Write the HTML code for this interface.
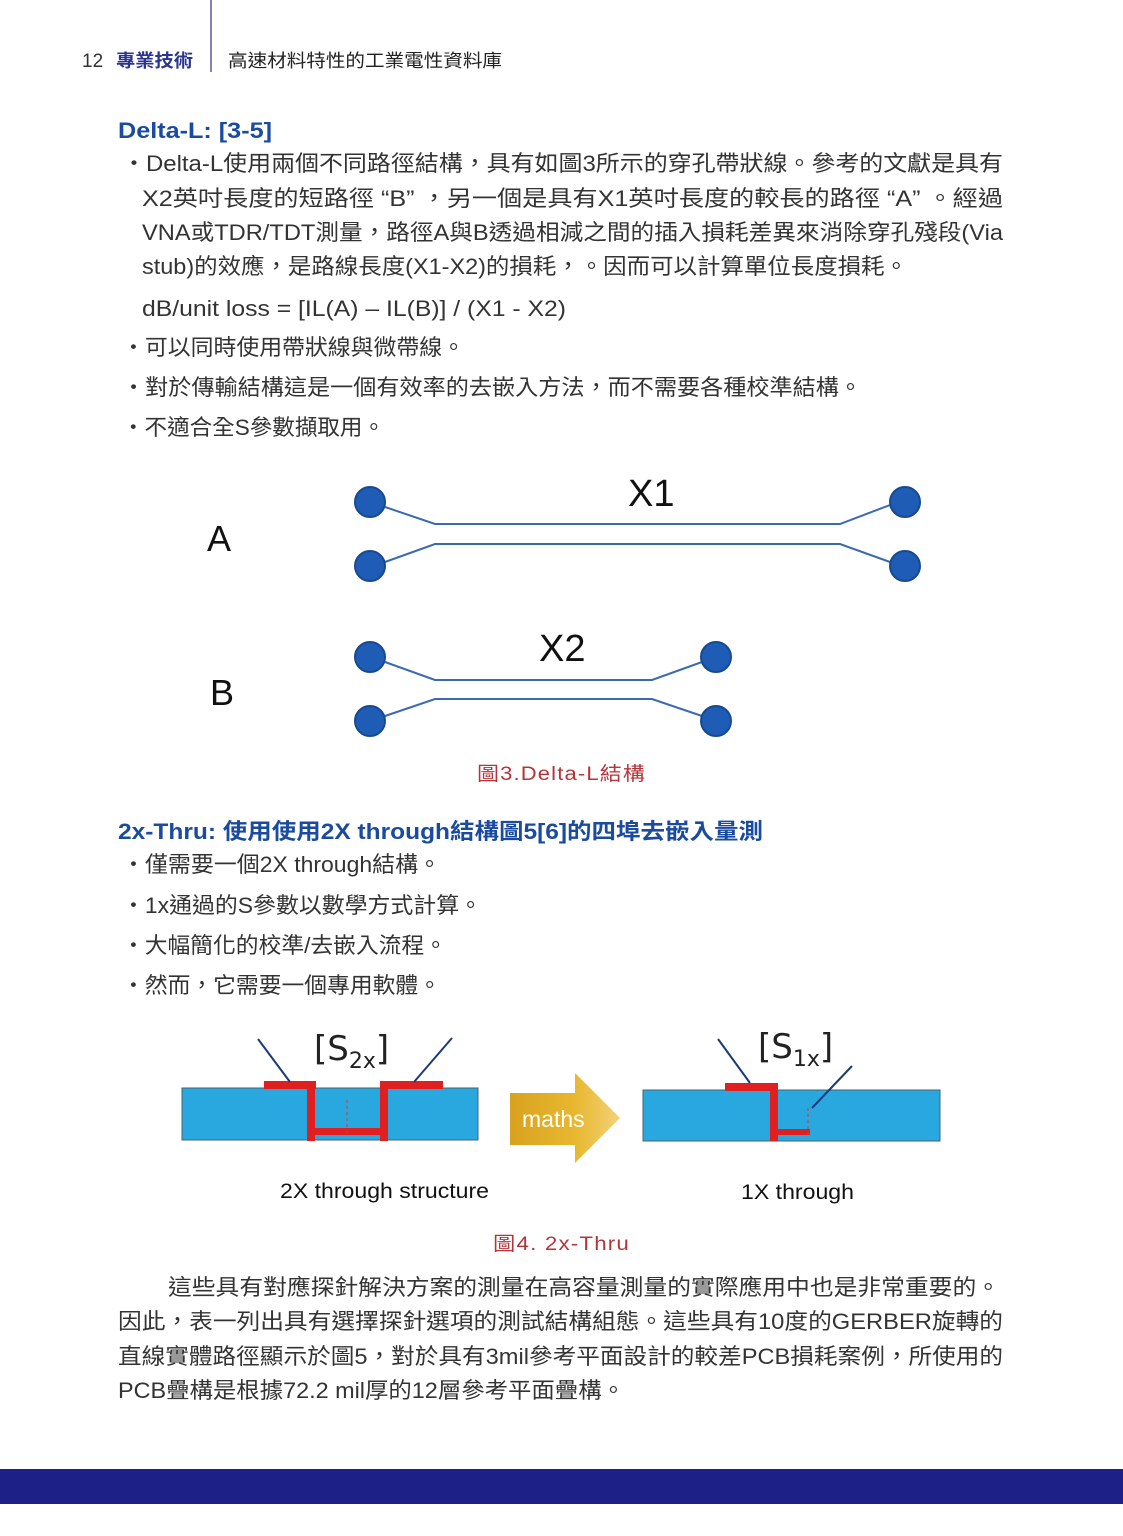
<!DOCTYPE html>
<html><head><meta charset="utf-8"><style>
html,body{margin:0;padding:0;background:#fff}
svg{display:block}
text{font-family:"Liberation Sans","Noto Sans CJK TC",sans-serif}
.b{font-size:22px;fill:#333}
.h{font-size:22px;fill:#1a4ba0;font-weight:bold}
.c{font-size:19px;fill:#b5343a;letter-spacing:1px}
</style></head><body>
<svg width="1123" height="1536" viewBox="0 0 1123 1536" xmlns="http://www.w3.org/2000/svg">
<defs>
<linearGradient id="g" x1="0" y1="0" x2="1" y2="0">
<stop offset="0" stop-color="#d9a21e"/><stop offset="0.6" stop-color="#e8b830"/><stop offset="1" stop-color="#f3d27a"/></linearGradient>
</defs>
<!-- header -->
<line x1="211" y1="0" x2="211" y2="72" stroke="#555a9a" stroke-width="1.5"/>
<text x="82" y="67" style="font-size:19px;fill:#333">12</text>
<text x="116" y="67" textLength="77" lengthAdjust="spacingAndGlyphs" style="font-size:18px;fill:#2a3590;font-weight:bold">專業技術</text>
<text x="228" y="67" textLength="274" lengthAdjust="spacingAndGlyphs" style="font-size:18px;fill:#222">高速材料特性的工業電性資料庫</text>

<text x="118" y="138" class="h" textLength="154" lengthAdjust="spacingAndGlyphs">Delta-L: [3-5]</text>
<text x="122" y="171" class="b" textLength="881" lengthAdjust="spacingAndGlyphs">・Delta-L使用兩個不同路徑結構，具有如圖3所示的穿孔帶狀線。參考的文獻是具有</text>
<text x="142" y="206" class="b" textLength="861" lengthAdjust="spacingAndGlyphs">X2英吋長度的短路徑 “B” ，另一個是具有X1英吋長度的較長的路徑 “A” 。經過</text>
<text x="142" y="240" class="b" textLength="861" lengthAdjust="spacingAndGlyphs">VNA或TDR/TDT測量，路徑A與B透過相減之間的插入損耗差異來消除穿孔殘段(Via</text>
<text x="142" y="274" class="b" textLength="766" lengthAdjust="spacingAndGlyphs">stub)的效應，是路線長度(X1-X2)的損耗，。因而可以計算單位長度損耗。</text>
<text x="142" y="316" class="b" textLength="424" lengthAdjust="spacingAndGlyphs">dB/unit  loss = [IL(A) – IL(B)] / (X1 - X2)</text>
<text x="122" y="355" class="b" textLength="343" lengthAdjust="spacingAndGlyphs">・可以同時使用帶狀線與微帶線。</text>
<text x="122" y="395" class="b" textLength="740" lengthAdjust="spacingAndGlyphs">・對於傳輸結構這是一個有效率的去嵌入方法，而不需要各種校準結構。</text>
<text x="122" y="435" class="b" textLength="263" lengthAdjust="spacingAndGlyphs">・不適合全S參數擷取用。</text>

<!-- Figure 3 -->
<g stroke="#3a6ab0" stroke-width="2" fill="none">
<polyline points="385,507 435,524 840,524 890,505"/>
<polyline points="385,562 435,544 840,544 890,562"/>
<polyline points="385,662 435,680 652,680 702,662"/>
<polyline points="385,716 435,699 652,699 702,716"/>
</g>
<g fill="#1f5cb5" stroke="#184a90" stroke-width="2">
<circle cx="370" cy="502" r="15"/><circle cx="370" cy="566" r="15"/>
<circle cx="905" cy="502" r="15"/><circle cx="905" cy="566" r="15"/>
<circle cx="370" cy="657" r="15"/><circle cx="370" cy="721" r="15"/>
<circle cx="716" cy="657" r="15"/><circle cx="716" cy="721" r="15"/>
</g>
<text x="628" y="506" style="font-size:38px;fill:#111">X1</text>
<text x="207" y="551" style="font-size:36px;fill:#111">A</text>
<text x="539" y="661" style="font-size:38px;fill:#111">X2</text>
<text x="210" y="705" style="font-size:36px;fill:#111">B</text>
<text x="477" y="780" class="c" textLength="169" lengthAdjust="spacingAndGlyphs">圖3.Delta-L結構</text>

<text x="118" y="839" class="h" textLength="645" lengthAdjust="spacingAndGlyphs">2x-Thru: 使用使用2X through結構圖5[6]的四埠去嵌入量測</text>
<text x="122" y="872" class="b" textLength="319" lengthAdjust="spacingAndGlyphs">・僅需要一個2X through結構。</text>
<text x="122" y="913" class="b" textLength="360" lengthAdjust="spacingAndGlyphs">・1x通過的S參數以數學方式計算。</text>
<text x="122" y="953" class="b" textLength="325" lengthAdjust="spacingAndGlyphs">・大幅簡化的校準/去嵌入流程。</text>
<text x="122" y="993" class="b" textLength="319" lengthAdjust="spacingAndGlyphs">・然而，它需要一個專用軟體。</text>

<!-- Figure 4 left -->
<rect x="182" y="1088" width="296" height="52" fill="#29a8e0" stroke="#4a6070" stroke-width="1"/>
<rect x="264" y="1081" width="52" height="8" fill="#e02020"/>
<rect x="380" y="1081" width="63" height="8" fill="#e02020"/>
<rect x="307" y="1088" width="8" height="53" fill="#e02020"/>
<rect x="380" y="1088" width="8" height="53" fill="#e02020"/>
<rect x="310" y="1128" width="75" height="7" fill="#e02020"/>
<line x1="347" y1="1100" x2="347" y2="1135" stroke="#c04040" stroke-width="1" stroke-dasharray="3,3"/>
<g stroke="#1a3a7a" stroke-width="2"><line x1="258" y1="1039" x2="290" y2="1082"/><line x1="452" y1="1038" x2="414" y2="1082"/></g>
<text x="314" y="1060" style="font-size:34px;fill:#222;font-family:'DejaVu Sans',sans-serif">[S<tspan dy="8" style="font-size:22px">2x</tspan><tspan dy="-8">]</tspan></text>
<!-- arrow -->
<polygon points="510,1093 575,1093 575,1073 620,1118 575,1163 575,1145 510,1145" fill="url(#g)"/>
<text x="522" y="1127" style="font-size:23px;fill:#fff">maths</text>
<!-- right -->
<rect x="643" y="1090" width="297" height="51" fill="#29a8e0" stroke="#4a6070" stroke-width="1"/>
<rect x="725" y="1083" width="53" height="8" fill="#e02020"/>
<rect x="770" y="1083" width="8" height="58" fill="#e02020"/>
<rect x="774" y="1129" width="36" height="6" fill="#e02020"/>
<line x1="808" y1="1108" x2="808" y2="1135" stroke="#c04040" stroke-width="1" stroke-dasharray="3,3"/>
<g stroke="#1a3a7a" stroke-width="2"><line x1="718" y1="1039" x2="750" y2="1083"/><line x1="852" y1="1066" x2="812" y2="1108"/></g>
<text x="758" y="1058" style="font-size:34px;fill:#222;font-family:'DejaVu Sans',sans-serif">[S<tspan dy="8" style="font-size:22px">1x</tspan><tspan dy="-8">]</tspan></text>
<text x="280" y="1198" style="font-size:21px;fill:#111" textLength="209" lengthAdjust="spacingAndGlyphs">2X through structure</text>
<text x="741" y="1199" style="font-size:21px;fill:#111" textLength="113" lengthAdjust="spacingAndGlyphs">1X through</text>
<text x="493" y="1250" class="c" textLength="137" lengthAdjust="spacingAndGlyphs">圖4. 2x-Thru</text>

<text x="168" y="1295" class="b" textLength="832" lengthAdjust="spacingAndGlyphs">這些具有對應探針解決方案的測量在高容量測量的實際應用中也是非常重要的。</text>
<text x="118" y="1329" class="b" textLength="885" lengthAdjust="spacingAndGlyphs">因此，表一列出具有選擇探針選項的測試結構組態。這些具有10度的GERBER旋轉的</text>
<text x="118" y="1364" class="b" textLength="885" lengthAdjust="spacingAndGlyphs">直線實體路徑顯示於圖5，對於具有3mil參考平面設計的較差PCB損耗案例，所使用的</text>
<text x="118" y="1398" class="b" textLength="507" lengthAdjust="spacingAndGlyphs">PCB疊構是根據72.2 mil厚的12層參考平面疊構。</text>

<rect x="0" y="1469" width="1123" height="35" fill="#1d2087"/>
</svg>
</body></html>
